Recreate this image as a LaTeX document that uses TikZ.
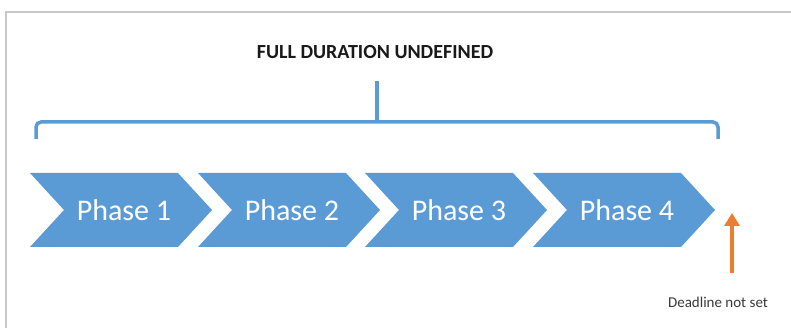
\documentclass[tikz,border=0pt]{standalone}
\usepackage{fontspec}
\setmainfont{Carlito}
\usetikzlibrary{arrows.meta}
\definecolor{phaseblue}{HTML}{5B9BD5}
\definecolor{deadorange}{HTML}{ED7D31}
\definecolor{framegray}{HTML}{C8C8C8}
\definecolor{darktext}{HTML}{3A3A3A}
\begin{document}
\begin{tikzpicture}[x=1pt,y=-1pt,
  chev/.style={fill=phaseblue},
  phasetext/.style={text=white, inner sep=0pt, font=\fontsize{30}{36}\selectfont},
  bracketline/.style={draw=phaseblue, line width=3.5pt, rounded corners=5pt},
  titletext/.style={text=black!90, inner sep=0pt, font=\bfseries\fontsize{20}{24}\selectfont},
  deadtext/.style={text=darktext, inner sep=0pt, font=\fontsize{15}{18}\selectfont},
  deadarrow/.style={draw=deadorange, line width=3.5pt, -{Triangle[width=15pt,length=13pt]}}]
\useasboundingbox (0,0) rectangle (791,328);
\fill[white] (0,0) rectangle (791,328);
\draw[framegray, line width=1.5pt] (791,12) -- (6,12) -- (6,328);
\foreach \i/\x in {1/30,2/198,3/365,4/533} {
  \path[chev] (\x,173) -- ++(148,0) -- ++(34,37) -- ++(-34,37) -- ++(-148,0) -- ++(34,-37) -- cycle;
  \node[phasetext] (p\i) at (\x+94,210) {Phase \i};
}
\node[titletext] (title) at (375,52) {FULL DURATION UNDEFINED};
\coordinate (bl) at (36,139);
\coordinate (br) at (718,139);
\coordinate (bt) at (377,81);
\draw[bracketline] (bl) -- (36,122) -- (718,122) -- (br);
\draw[bracketline] (377,122) -- (bt);
\coordinate (arrtail) at (732,273);
\coordinate (arrtip) at (732,213);
\draw[deadarrow] (arrtail) -- (arrtip);
\node[deadtext] (deadline) at (718,302) {Deadline not set};
\end{tikzpicture}
\end{document}
